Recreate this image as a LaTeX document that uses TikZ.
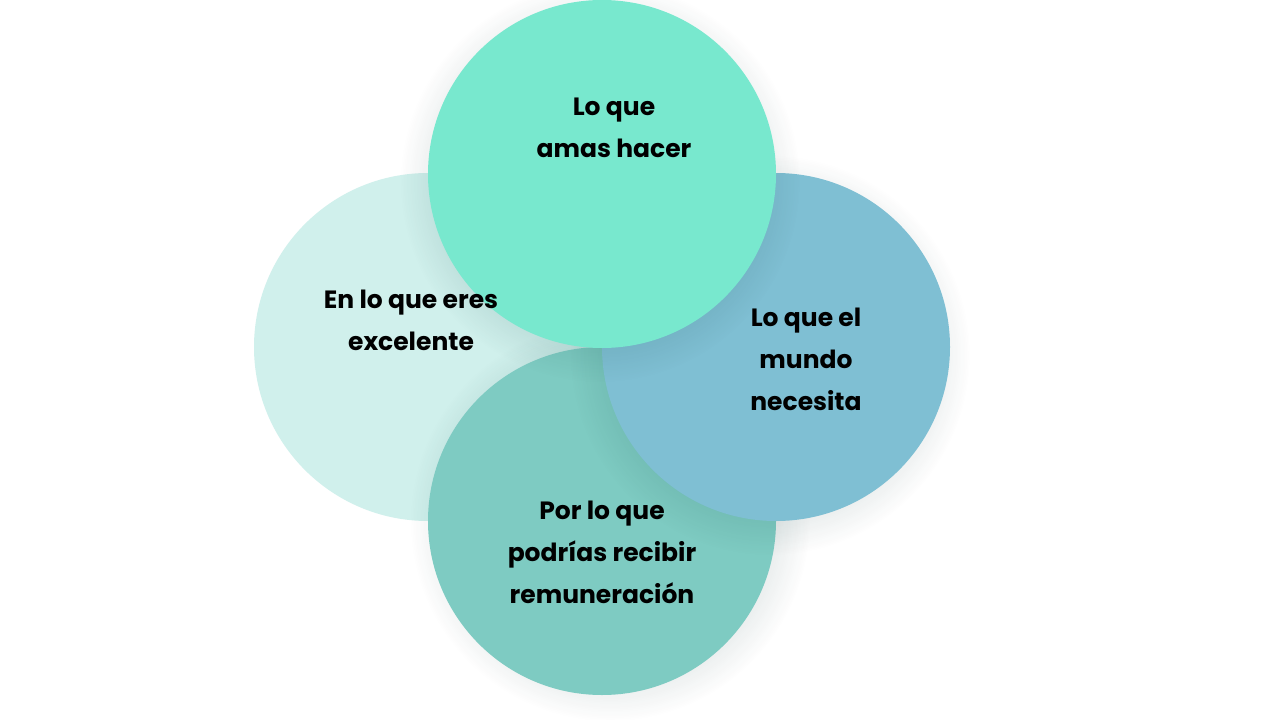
\documentclass[tikz,border=0pt]{standalone}
\usepackage{fontspec}
\setmainfont{Poppins}
\usetikzlibrary{fadings}
\definecolor{ctop}{HTML}{78E8CE}
\definecolor{cleft}{HTML}{D0F0EC}
\definecolor{cright}{HTML}{7FBFD3}
\definecolor{cbot}{HTML}{7ECBC2}
\tikzfading[name=fuzzy, inner color=transparent!0, outer color=transparent!100]
\tikzset{
  shad/.style={fill=black!60!teal, fill opacity=0.45, path fading=fuzzy},
  lbl/.style={font=\bfseries\fontsize{25}{42}\selectfont, align=center, text=black}
}
\begin{document}
\begin{tikzpicture}[x=1pt,y=-1pt]
\useasboundingbox (0,0) rectangle (1280,720);
\fill[white] (0,0) rectangle (1280,720);
\node[circle, minimum size=348pt, inner sep=0, fill=cleft] (l) at (428,347) {};
\fill[shad] (610,521) circle (200);
\node[circle, minimum size=348pt, inner sep=0, fill=cbot] (b) at (602,521) {};
\fill[shad] (770,355) circle (200);
\node[circle, minimum size=348pt, inner sep=0, fill=cright] (r) at (776,347) {};
\fill[shad] (600,182) circle (200);
\node[circle, minimum size=348pt, inner sep=0, fill=ctop] (t) at (602,174) {};
\node[lbl] (tt) at (614,128) {Lo que\\amas hacer};
\node[lbl] (lt) at (411,320) {En lo que eres\\excelente};
\node[lbl] (rt) at (806,359) {Lo que el\\mundo\\necesita};
\node[lbl] (bt) at (602,552) {Por lo que\\podrías recibir\\remuneración};
\end{tikzpicture}
\end{document}
